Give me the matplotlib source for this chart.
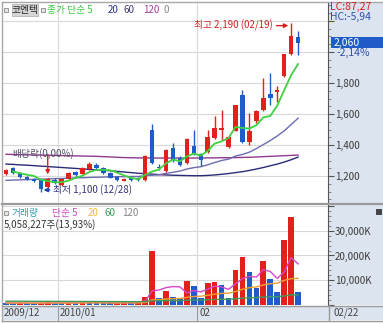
import numpy as np
import pandas as pd
import matplotlib
matplotlib.use("Agg")
import matplotlib.pyplot as plt
from matplotlib.patches import Rectangle
from matplotlib.lines import Line2D
from matplotlib.ticker import MultipleLocator, FuncFormatter

plt.rcParams['font.family'] = ['Noto Sans CJK KR', 'DejaVu Sans']

W, H = 383, 323

# trading days 2009/12/18 - 2010/02/22 (KRX holidays removed)
holidays = ['2009-12-25', '2009-12-31', '2010-01-01', '2010-02-15']
dates = pd.bdate_range('2009-12-18', '2010-02-22', freq='C', holidays=holidays)

opens = [1213, 1250, 1220, 1195, 1182, 1175, 1130, 1175, 1140, 1180,
         1225, 1215, 1245, 1270, 1250, 1220, 1195, 1170, 1185, 1190,
         1175, 1497, 1255, 1232, 1381, 1316, 1284, 1394, 1342, 1355,
         1445, 1497, 1387, 1490, 1723, 1420, 1555, 1626, 1729, 1742,
         1845, 1990, 2097]
highs = [1245, 1258, 1225, 1200, 1188, 1180, 1185, 1185, 1185, 1225,
         1230, 1255, 1290, 1285, 1255, 1225, 1200, 1185, 1190, 1195,
         1335, 1535, 1280, 1375, 1413, 1330, 1445, 1497, 1350, 1497,
         1587, 1626, 1460, 1660, 1755, 1606, 1625, 1832, 1864, 1780,
         1990, 2190, 2135]
lows = [1205, 1215, 1190, 1175, 1160, 1100, 1120, 1150, 1135, 1175,
        1195, 1210, 1240, 1245, 1215, 1185, 1170, 1165, 1170, 1170,
        1170, 1280, 1240, 1225, 1290, 1265, 1280, 1335, 1264, 1350,
        1440, 1432, 1380, 1490, 1415, 1400, 1545, 1620, 1658, 1677,
        1840, 1980, 1981]
closes = [1239, 1220, 1195, 1180, 1170, 1115, 1180, 1155, 1180, 1220,
          1205, 1250, 1275, 1250, 1220, 1190, 1175, 1180, 1175, 1175,
          1329, 1284, 1250, 1368, 1303, 1271, 1439, 1342, 1303, 1452,
          1510, 1510, 1452, 1658, 1420, 1490, 1620, 1703, 1703, 1755,
          1987, 2105, 2060]

# moving averages (they need history before 12/18)
ma20 = [1172, 1174, 1175, 1177, 1178, 1180, 1181, 1183, 1184, 1186,
        1188, 1189, 1191, 1192, 1193, 1195, 1196, 1196, 1197, 1197,
        1202, 1205, 1208, 1217, 1224, 1232, 1245, 1254, 1260, 1272,
        1287, 1300, 1309, 1329, 1339, 1354, 1377, 1403, 1429, 1458,
        1491, 1532, 1573]
ma60 = [1277, 1275, 1272, 1270, 1267, 1264, 1261, 1258, 1255, 1252,
        1249, 1246, 1243, 1240, 1237, 1234, 1230, 1226, 1222, 1218,
        1215, 1212, 1209, 1207, 1205, 1204, 1203, 1202, 1202, 1204,
        1207, 1211, 1216, 1222, 1228, 1236, 1245, 1255, 1266, 1277,
        1290, 1305, 1322]
ma120 = [1340, 1339, 1338, 1337, 1336, 1335, 1334, 1333, 1332, 1331,
         1330, 1329, 1328, 1327, 1325, 1323, 1321, 1319, 1318, 1317,
         1317, 1316, 1316, 1316, 1316, 1316, 1316, 1316, 1316, 1317,
         1317, 1318, 1318, 1319, 1320, 1321, 1323, 1325, 1327, 1329,
         1331, 1333, 1335]

# volume in thousand shares
volume = [650, 520, 700, 560, 480, 620, 900, 560, 470, 620,
          540, 1350, 760, 640, 520, 460, 610, 1150, 720, 1050,
          3050, 21900, 2800, 5600, 3200, 2500, 9700, 7500, 2800, 8600,
          9000, 7800, 2800, 14000, 19400, 13300, 6600, 17700, 10400, 5200,
          26500, 35700, 5058]
vol_ma60 = [1350, 1340, 1330, 1320, 1310, 1300, 1290, 1280, 1270, 1260,
            1250, 1240, 1230, 1220, 1210, 1200, 1190, 1180, 1170, 1160,
            1190, 1500, 1520, 1580, 1610, 1630, 1750, 1840, 1860, 1960,
            2060, 2150, 2170, 2340, 2580, 2750, 2820, 3040, 3150, 3190,
            3480, 3950, 3960]
last_shares = 5058227
turnover = "13,93%"
lc, hc = "87,27", "-5,94"

RED = '#e3201b'
BLUE = '#1f5cc8'
GRID = '#d9d9d9'
PANEL = '#dce4ef'


def box(x0, y0, x1, y1):
    # pixel box (top-left origin) -> figure fraction rect
    return [x0 / W, 1 - y1 / H, (x1 - x0) / W, (y1 - y0) / H]


def ftext(x, y, s, **kw):
    kw.setdefault('fontsize', 7)
    kw.setdefault('va', 'center')
    fig.text(x / W, 1 - y / H, s, **kw)


def frect(x0, y0, x1, y1, **kw):
    kw.setdefault('zorder', 2)
    fig.patches.append(Rectangle((x0 / W, 1 - y1 / H), (x1 - x0) / W, (y1 - y0) / H,
                                 transform=fig.transFigure, **kw))


def fline(x0, y0, x1, y1, **kw):
    kw.setdefault('zorder', 2)
    fig.lines.append(Line2D([x0 / W, x1 / W], [1 - y0 / H, 1 - y1 / H],
                            transform=fig.transFigure, **kw))


fig = plt.figure(figsize=(W / 100, H / 100), dpi=100, facecolor='white')

# light blue axis column and date bar (behind the axes)
frect(328, 3, 383, 305, facecolor=PANEL, edgecolor='none', zorder=-1)
frect(3, 306, 383, 320, facecolor=PANEL, edgecolor='none', zorder=-1)

ax_p = fig.add_axes(box(3, 3, 328, 203))
ax_v = fig.add_axes(box(3, 205, 328, 305), sharex=ax_p)

x = np.arange(len(closes))
o = np.array(opens)
c = np.array(closes)
up = c >= o
cols = np.where(up, RED, BLUE)

# ---- price panel ----
ax_p.vlines(x, lows, highs, colors=cols, lw=1, zorder=3)
body_h = np.maximum(np.abs(c - o), 3)
ax_p.bar(x, body_h, bottom=np.minimum(o, c), width=0.64, color=cols, zorder=4)

ma5 = pd.Series(closes).rolling(5, min_periods=2).mean()
ax_p.plot(x, ma120, color='#8e3a8e', lw=1, zorder=2)
ax_p.plot(x, ma60, color='#2b2b7a', lw=1, zorder=2)
ax_p.plot(x, ma20, color='#6c6cb0', lw=1, zorder=2)
ax_p.plot(x, ma5, color='#3fd13f', lw=1.3, zorder=5)

ax_p.set_xlim(-0.43, 46.3)
ax_p.set_ylim(1026, 2316)
ax_p.yaxis.set_major_locator(MultipleLocator(200))
ax_p.yaxis.set_minor_locator(MultipleLocator(50))
ax_p.yaxis.set_major_formatter(FuncFormatter(lambda v, _: f"{v:,.0f}" if v <= 1800 else ""))

# month boundaries
months = pd.Series(dates.month)
bounds = [i - 0.5 for i in range(1, len(dates)) if months[i] != months[i - 1]]

for ax in (ax_p, ax_v):
    ax.set_facecolor('white')
    ax.yaxis.tick_right()
    for s in ('top', 'left', 'bottom'):
        ax.spines[s].set_visible(False)
    ax.spines['right'].set_color('#555555')
    ax.tick_params(axis='x', bottom=False, labelbottom=False)
    ax.tick_params(axis='y', which='major', length=4, width=0.8, color='#555555',
                   labelsize=7, labelcolor='#3a3a3a', pad=1)
    ax.tick_params(axis='y', which='minor', length=2, width=0.6, color='#777777')
    ax.grid(axis='y', which='major', color=GRID, lw=0.8)
    ax.set_axisbelow(True)
    for b in bounds:
        ax.axvline(b, color=GRID, lw=0.8, zorder=0)

# annotations
i_hi = int(np.argmax(highs))
i_lo = int(np.argmin(lows))
ax_p.annotate(f"최고 {highs[i_hi]:,} ({dates[i_hi]:%m/%d})", xy=(i_hi - 0.4, highs[i_hi] - 20),
              xytext=(-16, 0), textcoords='offset pixels', ha='right', va='center',
              fontsize=7, color='#d42020',
              arrowprops=dict(arrowstyle='-|>', color='#d42020', lw=1, shrinkA=1, shrinkB=0,
                              mutation_scale=6))
ax_p.annotate(f"최저 {lows[i_lo]:,} ({dates[i_lo]:%m/%d})", xy=(i_lo + 0.4, lows[i_lo] + 10),
              xytext=(9, 0), textcoords='offset pixels', ha='left', va='center',
              fontsize=7, color='#34347e',
              arrowprops=dict(arrowstyle='-|>', color='#2040c0', lw=1, shrinkA=0, shrinkB=0,
                              mutation_scale=6))
i_ex = list(dates.strftime('%Y-%m-%d')).index('2009-12-29')
ax_p.annotate('', xy=(i_ex, highs[i_ex] + 25), xytext=(0, 20), textcoords='offset pixels',
              arrowprops=dict(arrowstyle='-|>', color='#e02020', lw=1, shrinkA=0, shrinkB=0,
                              mutation_scale=6))
ax_p.text(i_ex - 5.1, 1348, "배당락(0,00%)", fontsize=7, color='#505068', va='center', ha='left')

# ---- volume panel ----
vol = np.array(volume)
vcols = [RED if i > 0 and vol[i] > vol[i - 1] else BLUE for i in range(len(vol))]
ax_v.bar(x, vol, width=0.82, color=vcols, zorder=3)
vs = pd.Series(volume)
ax_v.plot(x, vs.rolling(5, min_periods=1).mean(), color='#d945c9', lw=1, zorder=4)
ax_v.plot(x, vs.rolling(20, min_periods=1).mean(), color='#f0a030', lw=1, zorder=4)
ax_v.plot(x, vol_ma60, color='#3f9a5c', lw=1, zorder=4)
ax_v.set_ylim(-204, 40612)
ax_v.yaxis.set_major_locator(MultipleLocator(10000))
ax_v.yaxis.set_minor_locator(MultipleLocator(2000))
ax_v.yaxis.set_major_formatter(FuncFormatter(lambda v, _: f"{v:,.0f}K" if 0 < v < 35000 else ""))

# ---- frame lines ----
fline(2, 2, 383, 2, color='#a8a8a8', lw=1)
fline(2, 2, 2, 321, color='#a8a8a8', lw=1)
fline(2, 204, 383, 204, color='#9a9a9a', lw=1.6)
fline(2, 305.5, 383, 305.5, color='#9a9a9a', lw=1)
fline(2, 320.5, 383, 320.5, color='#9a9a9a', lw=1)
fline(328.5, 305, 328.5, 320, color='#9a9a9a', lw=1)

# date bar
for b in bounds:
    px = ax_v.transData.transform((b, 0))[0]
    fline(px, 306, px, 320, color='#9a9a9a', lw=0.8)
ftext(4, 313, f"{dates[0]:%Y/%m}", color='#444444')
for b in bounds:
    px = ax_v.transData.transform((b, 0))[0]
    d = dates[int(b + 0.5)]
    lab = f"{d:%Y/%m}" if d.year != dates[int(b - 0.5)].year else f"{d:%m}"
    ftext(px + 2, 313, lab, color='#444444')
ftext(333, 313, f"{dates[-1]:%m/%d}", color='#444444')

# ---- headers ----
frect(4, 8, 8, 12, facecolor='#e6e6e6', edgecolor='#888888', lw=0.6)
frect(12, 4, 38, 16, facecolor='#d6d6d6', edgecolor='#b5b5b5', lw=0.6)
ftext(25, 10, "코엔텍", ha='center', color='#222222')
frect(41, 8, 45, 12, facecolor='#e6e6e6', edgecolor='#888888', lw=0.6)
ftext(47, 10, "종가 단순 5", color='#3cc83c')
ftext(108, 10, "20", color='#2b2b8c')
ftext(124, 10, "60", color='#3a3a6e')
ftext(143, 10, "120", color='#a040a0')
ftext(164, 10, "0", color='#888888')

frect(4, 211, 8, 215, facecolor='#e6e6e6', edgecolor='#888888', lw=0.6)
ftext(12, 213, "거래량", color='#2fa0b4')
ftext(52, 213, "단순 5", color='#d045c8')
ftext(88, 213, "20", color='#e8c040')
ftext(104, 213, "60", color='#3f9a5c')
ftext(122, 213, "120", color='#888888')
ftext(4, 225, f"{last_shares:,}주({turnover})", color='#333333')

# right column labels
chg = (closes[-1] - closes[-2]) / closes[-2] * 100
ftext(330, 7, f"LC:{lc}", color='#d42020', fontsize=7.5)
ftext(330, 17, f"HC:{hc}", color='#3050b0', fontsize=7.5)
frect(331, 37, 383, 48, facecolor='#1f5cc8', edgecolor='none')
ftext(334, 42.5, f"{closes[-1]:,}", color='white', fontsize=7.5)
ftext(337, 53, f"{chg:.2f}%".replace('.', ','), color='#3050b0', fontsize=7.5)
frect(376, 209, 381, 214, facecolor='#444444', edgecolor='#222222', lw=0.5)

fig.savefig('out.png', dpi=100, facecolor='white')
